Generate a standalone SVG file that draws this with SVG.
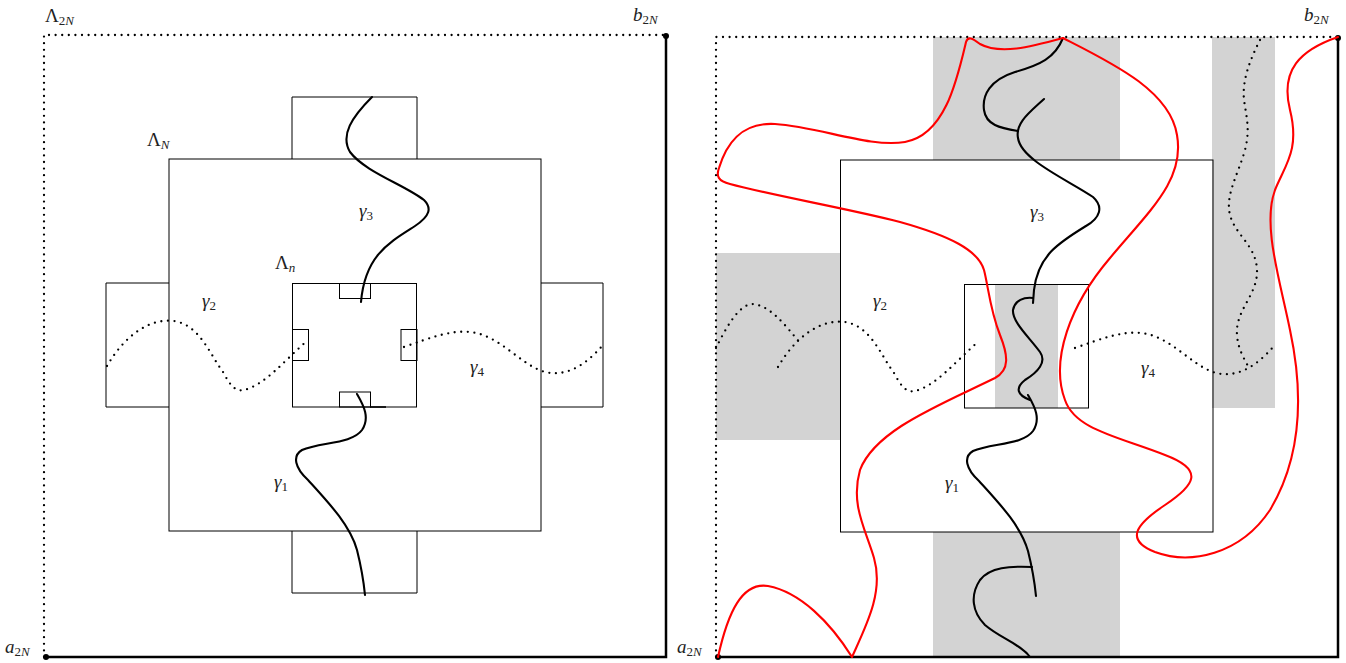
<svg xmlns="http://www.w3.org/2000/svg" width="1346" height="663" viewBox="0 0 1346 663">
<style>
.box{fill:none;stroke:#000;stroke-width:1}
.gray{fill:#d3d3d3;stroke:none}
.frame{fill:none;stroke:#000;stroke-width:2.5}
.dotline{fill:none;stroke:#000;stroke-width:2.3;stroke-dasharray:0 6.6;stroke-linecap:round}
.curve{fill:none;stroke:#000;stroke-width:2.1;stroke-linecap:round}
.red{fill:none;stroke:#f00;stroke-width:2.1;stroke-linecap:round;stroke-linejoin:round}
.lbl{font-family:"Liberation Serif",serif;font-size:19px;fill:#222}
.it{font-style:italic}
.sub{font-size:13px}
</style>
<rect width="1346" height="663" fill="#fff"/>

<g id="left-panel">
  <g id="L-outer">
    <path class="dotline" d="M44,657 L44,35 L666,35"/>
    <path class="frame" d="M46,657 L666,657 L666,35"/>
    <circle cx="46" cy="657" r="3"/>
    <circle cx="666" cy="36" r="3"/>
  </g>
  <g id="L-LambdaN"><rect class="box" x="169" y="159" width="372" height="372"/></g>
  <g id="L-top-ext"><path class="box" d="M292,159 V97 H417 V159"/></g>
  <g id="L-bottom-ext"><path class="box" d="M292,531 V593 H417 V531"/></g>
  <g id="L-left-ext"><path class="box" d="M169,283 H106 V407 H169"/></g>
  <g id="L-right-ext"><path class="box" d="M541,283 H603 V407 H541"/></g>
  <g id="L-Lambdan">
    <rect class="box" x="292.5" y="283.5" width="124" height="123.5"/>
    <rect class="box" x="339.5" y="283.5" width="31" height="15"/>
    <rect class="box" x="339.5" y="392" width="31" height="15"/>
    <rect class="box" x="292.5" y="329.5" width="16" height="31"/>
    <rect class="box" x="401" y="329.5" width="16" height="31"/>
    <path d="M370,407 H386" stroke="#000" stroke-width="1.6"/>
  </g>
</g>

<g id="right-panel">
  <g id="R-gray">
    <rect class="gray" x="933" y="37" width="187" height="123"/>
    <rect class="gray" x="933" y="532" width="187" height="125"/>
    <rect class="gray" x="716" y="253" width="124" height="187"/>
    <rect class="gray" x="1212" y="37" width="63" height="371"/>
    <rect class="gray" x="995" y="284" width="63" height="124"/>
  </g>
  <g id="R-outer">
    <path class="dotline" d="M716,657 L716,37 L1338,37"/>
    <path class="frame" d="M718,657 L1338,657 L1338,37"/>
    <circle cx="718" cy="657" r="3"/>
    <circle cx="1338" cy="38" r="3"/>
  </g>
  <g id="R-LambdaN"><rect class="box" x="840.5" y="160" width="372.5" height="372"/></g>
  <g id="R-Lambdan"><rect class="box" x="964.5" y="284.5" width="124" height="123.5"/></g>
</g>

<g id="connectors">
  <path class="curve" d="M372,97 C352,117 340,135 350,152 C365,172 405,185 424,200 C432,208 430,216 415,226 C390,242 365,255 361,302"/>
  <path class="curve" d="M357,394 C364,406 370,418 362,430 C352,444 320,442 302,450 C292,456 295,468 308,480 C328,502 350,525 357,550 C362,570 364,585 365,595"/>
  <path class="dotline" d="M107,366 C125,335 150,318 174,321 C200,325 210,355 223,372 C230,385 235,392 244,390 C265,385 285,360 308,340"/>
  <path class="dotline" d="M404,347 C430,338 450,330 470,332 C500,335 520,365 545,372 C570,378 590,360 603,345"/>

  <path class="curve" d="M1063,38 C1055,58 1040,65 1015,72 C990,80 982,95 984,110 C986,125 1000,128 1018,131"/>
  <path class="curve" d="M1044,99 C1030,112 1015,123 1018,138 C1021,160 1068,180 1093,197 C1104,207 1100,218 1086,226 C1060,242 1038,255 1034,290 L1033,303"/>
  <path class="curve" d="M1033,298 C1024,297 1015,300 1013,310 C1012,322 1030,338 1040,352 C1047,362 1038,372 1025,380 C1015,388 1017,395 1030,400"/>
  <path class="curve" d="M1028,395 C1035,407 1041,419 1033,431 C1023,445 991,443 973,451 C963,457 966,469 979,481 C999,503 1021,526 1028,551 C1033,571 1035,586 1036,596"/>
  <path class="curve" d="M1032,567 C1010,566 990,567 980,580 C970,595 972,612 985,625 C1000,638 1022,645 1030,657"/>
  <path class="dotline" d="M778,367 C796,336 821,319 845,322 C871,326 881,356 894,373 C901,386 906,393 915,391 C936,386 956,361 979,341"/>
  <path class="dotline" d="M716,348 C725,330 738,305 752,304 C770,305 785,325 800,343"/>
  <path class="dotline" d="M1075,348 C1101,339 1121,331 1141,333 C1171,336 1191,366 1216,373 C1241,379 1261,361 1274,346"/>
  <path class="dotline" d="M1260,40 C1250,60 1242,80 1244,100 C1247,120 1250,130 1245,150 C1238,175 1225,195 1230,215 C1235,235 1256,245 1257,270 C1258,295 1235,310 1237,335 C1238,350 1245,360 1250,370"/>

  <path class="red" d="M718,657 C728,612 742,582 768,586 C800,592 830,622 852,657 C866,626 884,592 874,558 C866,530 850,505 860,470 C875,430 940,405 995,378 C1010,370 1008,355 1000,335 C990,310 988,285 984,270 C978,250 950,236 900,222 C850,209 770,195 730,184 C718,181 716,176 719,168 C726,145 740,122 775,124 C820,127 870,148 905,142 C945,135 957,80 966,42 C968,36 972,38 980,44 C1000,55 1030,47 1063,38"/>
  <path class="red" d="M1063,38 C1110,62 1170,90 1177,135 C1185,180 1150,210 1110,258 C1070,305 1050,360 1065,400 C1075,430 1120,437 1165,455 C1205,470 1195,485 1165,505 C1135,525 1125,540 1155,552 C1190,565 1240,555 1270,510 C1300,460 1305,400 1290,330 C1280,280 1262,225 1275,190 C1285,165 1300,150 1290,110 C1280,70 1300,50 1338,37"/>
</g>

<g id="labels">
  <text class="lbl" x="45" y="22">Λ<tspan class="sub" dy="3">2<tspan class="it">N</tspan></tspan></text>
  <text class="lbl" x="633" y="21"><tspan class="it">b</tspan><tspan class="sub" dy="3">2<tspan class="it">N</tspan></tspan></text>
  <text class="lbl" x="5" y="653"><tspan class="it">a</tspan><tspan class="sub" dy="3">2<tspan class="it">N</tspan></tspan></text>
  <text class="lbl" x="147" y="146">Λ<tspan class="sub it" dy="3">N</tspan></text>
  <text class="lbl" x="275" y="269">Λ<tspan class="sub it" dy="3">n</tspan></text>
  <text class="lbl" x="359" y="217"><tspan class="it">γ</tspan><tspan class="sub" dy="3">3</tspan></text>
  <text class="lbl" x="202" y="307"><tspan class="it">γ</tspan><tspan class="sub" dy="3">2</tspan></text>
  <text class="lbl" x="470" y="373"><tspan class="it">γ</tspan><tspan class="sub" dy="3">4</tspan></text>
  <text class="lbl" x="274" y="488"><tspan class="it">γ</tspan><tspan class="sub" dy="3">1</tspan></text>

  <text class="lbl" x="1304" y="21"><tspan class="it">b</tspan><tspan class="sub" dy="3">2<tspan class="it">N</tspan></tspan></text>
  <text class="lbl" x="677" y="653"><tspan class="it">a</tspan><tspan class="sub" dy="3">2<tspan class="it">N</tspan></tspan></text>
  <text class="lbl" x="1030" y="218"><tspan class="it">γ</tspan><tspan class="sub" dy="3">3</tspan></text>
  <text class="lbl" x="873" y="307"><tspan class="it">γ</tspan><tspan class="sub" dy="3">2</tspan></text>
  <text class="lbl" x="1141" y="374"><tspan class="it">γ</tspan><tspan class="sub" dy="3">4</tspan></text>
  <text class="lbl" x="945" y="489"><tspan class="it">γ</tspan><tspan class="sub" dy="3">1</tspan></text>
</g>
</svg>
